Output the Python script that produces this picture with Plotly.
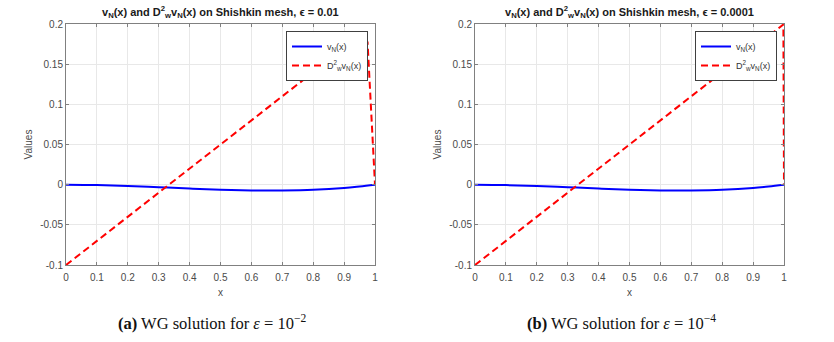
import plotly.graph_objects as go

# --- DATA ---
x_ticks = [0, 0.1, 0.2, 0.3, 0.4, 0.5, 0.6, 0.7, 0.8, 0.9, 1]
y_ticks = [-0.1, -0.05, 0, 0.05, 0.1, 0.15, 0.2]
y_tick_labels = ["-0.1", "-0.05", "0", "0.05", "0.1", "0.15", "0.2"]

# v_N(x), same shape in both panels
v_x = [0, 0.1, 0.2, 0.3, 0.4, 0.5, 0.6, 0.65, 0.7, 0.8, 0.9, 0.95, 1]
v_eps2 = [0, -0.0005, -0.0016, -0.0032, -0.0048, -0.0062, -0.0072, -0.0074,
          -0.0073, -0.0064, -0.0041, -0.0022, 0]
v_eps4 = [0, -0.0005, -0.0016, -0.0032, -0.0048, -0.0062, -0.0072, -0.0074,
          -0.0073, -0.0064, -0.0041, -0.0022, 0]

# D^2_w v_N(x)
d2_x_eps2 = [0, 0.5, 0.93, 0.976, 1]
d2_eps2 = [-0.1, 0.05, 0.179, 0.177, 0]
d2_x_eps4 = [0, 0.5, 0.998, 1]
d2_eps4 = [-0.1, 0.05, 0.1994, 0]

titles = [
    "<b>v<sub>N</sub>(x) and D<sup>2</sup><sub>w</sub>v<sub>N</sub>(x) on Shishkin mesh, \u03f5 = 0.01</b>",
    "<b>v<sub>N</sub>(x) and D<sup>2</sup><sub>w</sub>v<sub>N</sub>(x) on Shishkin mesh, \u03f5 = 0.0001</b>",
]
captions = [
    "<b>(a)</b> WG solution for <i>\u03b5</i> = 10<sup>\u22122</sup>",
    "<b>(b)</b> WG solution for <i>\u03b5</i> = 10<sup>\u22124</sup>",
]

W, H = 834, 342
panels = [(66, 375), (475, 784)]
caption_x = [212, 621]
top, bottom = 24, 265

fig = go.Figure()

series = [(v_x, v_eps2, d2_x_eps2, d2_eps2), (v_x, v_eps4, d2_x_eps4, d2_eps4)]
for i, (vx, vy, dx, dy) in enumerate(series):
    ax = "" if i == 0 else "2"
    leg = "legend" if i == 0 else "legend2"
    fig.add_trace(go.Scatter(x=vx, y=vy, mode="lines", name="v<sub>N</sub>(x)",
                             line=dict(color="#0000ff", width=2, shape="spline"),
                             xaxis="x" + ax, yaxis="y" + ax, legend=leg))
    fig.add_trace(go.Scatter(x=dx, y=dy, mode="lines",
                             name="D<sup>2</sup><sub>w</sub>v<sub>N</sub>(x)",
                             line=dict(color="#ff0000", width=2, dash="7px,4px"),
                             xaxis="x" + ax, yaxis="y" + ax, legend=leg))

axis_style = dict(showline=True, linecolor="#808080", linewidth=1, mirror="ticks",
                  ticks="inside", ticklen=3, tickcolor="#808080",
                  showgrid=True, gridcolor="#e8e8e8", zeroline=False, automargin=False,
                  tickfont=dict(family="Liberation Sans", size=10, color="#4a4a4a"))

layout = dict(width=W, height=H, margin=dict(l=0, r=0, t=0, b=0, pad=0, autoexpand=False),
              paper_bgcolor="white", plot_bgcolor="white", showlegend=True,
              font=dict(family="Liberation Sans", color="#333333"))
annotations = []
for i, (l, r) in enumerate(panels):
    ax = "" if i == 0 else str(i + 1)
    xd = [l / W, r / W]
    yd = [1 - bottom / H, 1 - top / H]
    layout["xaxis" + ax] = dict(domain=xd, range=[0, 1], tickvals=x_ticks,
                                ticktext=[f"{t:g}" for t in x_ticks],
                                anchor="y" + ax, ticklabelstandoff=3,
                                title=dict(text="x", standoff=6,
                                           font=dict(size=10, color="#4a4a4a")),
                                **axis_style)
    layout["yaxis" + ax] = dict(domain=yd, range=[-0.1, 0.2], tickvals=y_ticks,
                                ticktext=y_tick_labels, anchor="x" + ax,
                                title=dict(text="Values", standoff=5,
                                           font=dict(size=10, color="#4a4a4a")),
                                **axis_style)
    leg = "legend" if i == 0 else "legend2"
    layout[leg] = dict(x=(r - 7) / W, y=1 - 31 / H, xanchor="right", yanchor="top",
                       bgcolor="white", bordercolor="#404040", borderwidth=1,
                       font=dict(family="Liberation Sans", size=9, color="#333333"),
                       tracegroupgap=0, itemwidth=30)
    annotations.append(dict(text=titles[i], x=(l + r) / 2 / W, y=1 - 12 / H,
                            xref="paper", yref="paper", showarrow=False,
                            xanchor="center", yanchor="middle",
                            font=dict(family="Liberation Sans", size=11, color="#1a1a1a")))
    annotations.append(dict(text=captions[i], x=caption_x[i] / W, y=1 - 322 / H,
                            xref="paper", yref="paper", showarrow=False,
                            xanchor="center", yanchor="middle",
                            font=dict(family="Liberation Serif", size=16.5, color="#111111")))
layout["annotations"] = annotations
fig.update_layout(**layout)

# pin the figure to the window's top-left corner, no page margin
pin = ("document.body.style.margin='0';"
       "var d=document.getElementById('{plot_id}');"
       "d.style.position='fixed';d.style.top='0px';d.style.left='0px';")
fig.write_html("out.html", config={"displayModeBar": False}, post_script=pin)
